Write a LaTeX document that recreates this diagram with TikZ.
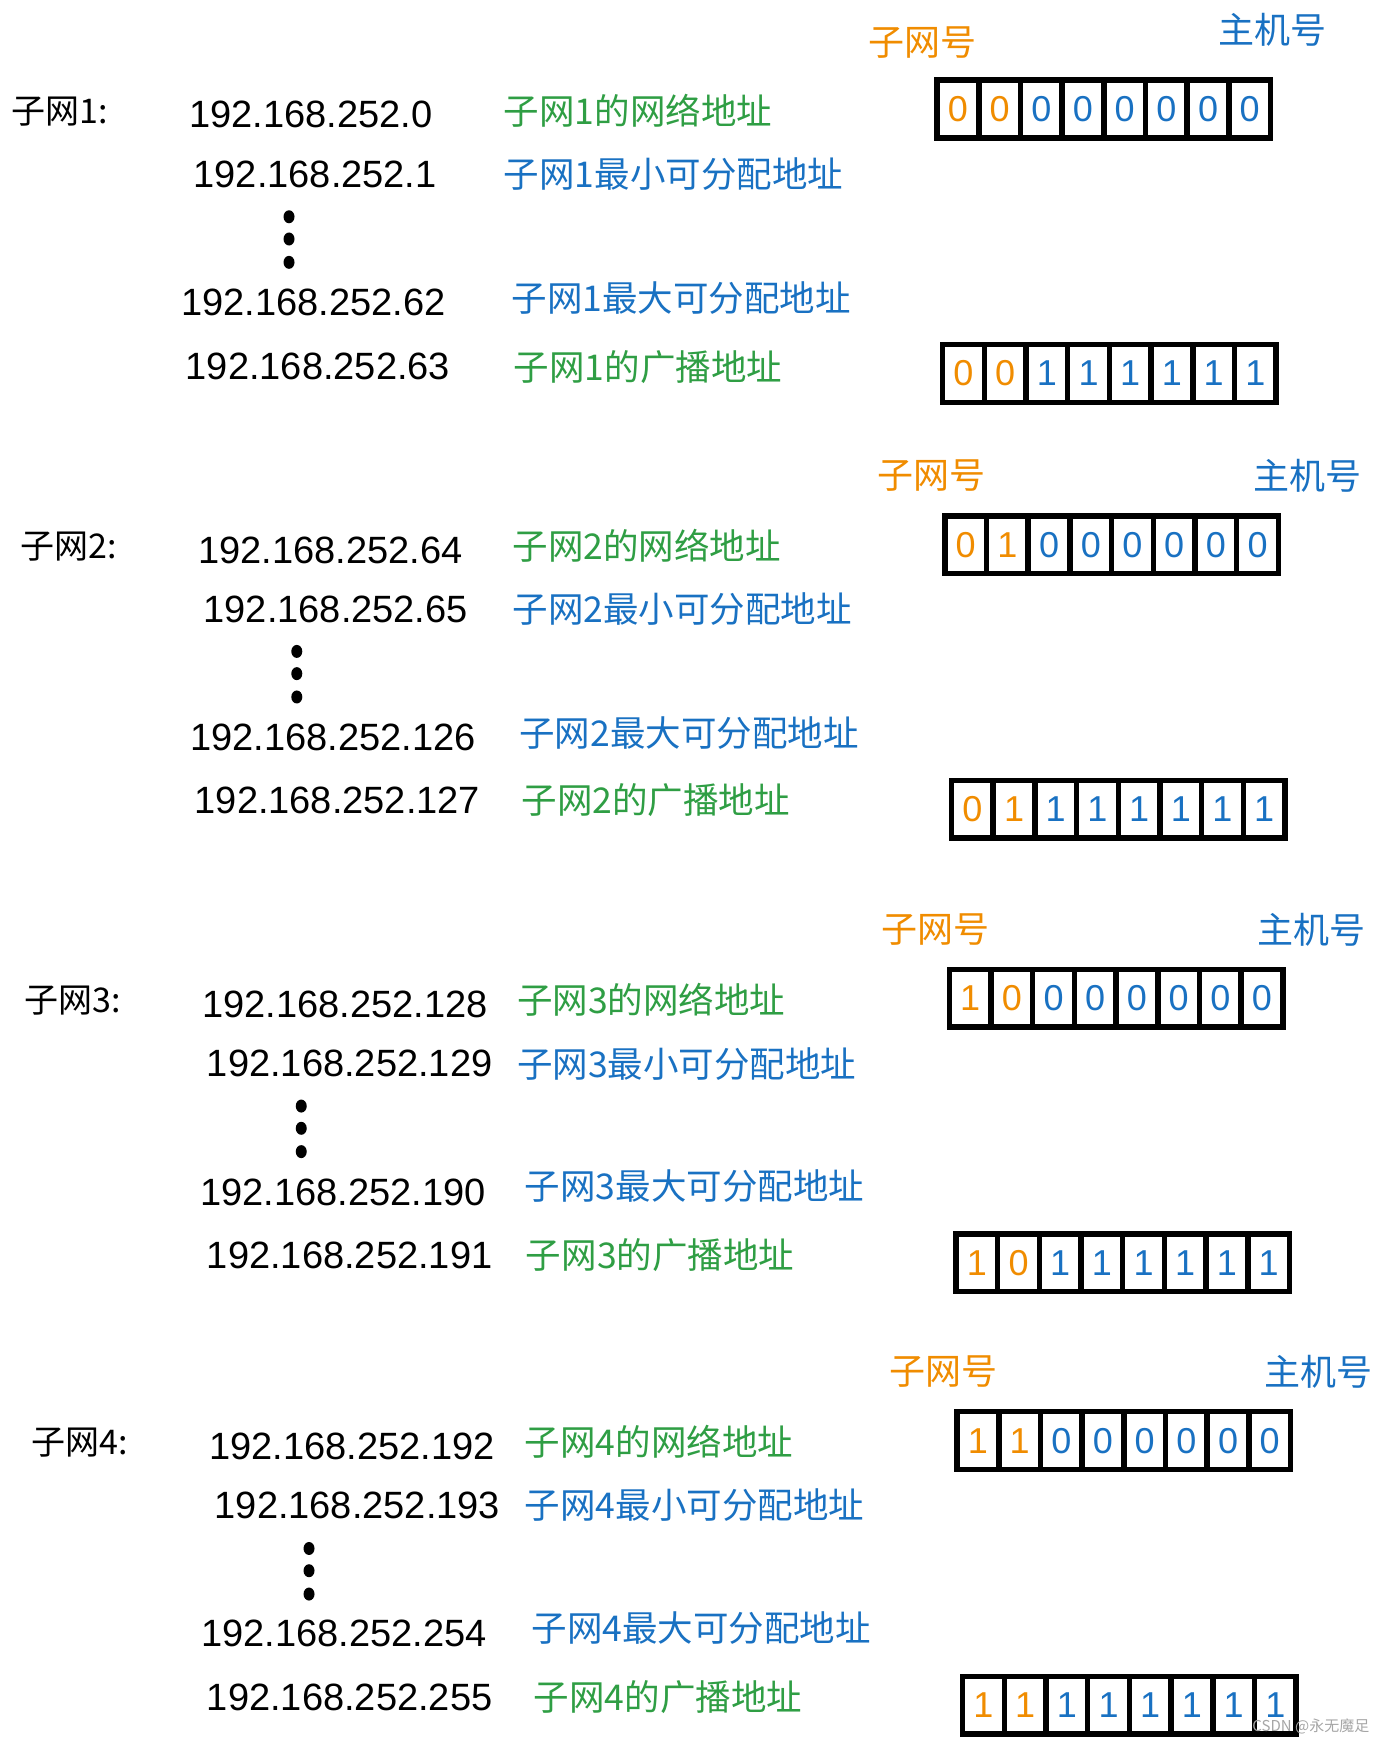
\documentclass[tikz,border=0pt]{standalone}
\usepackage{fontspec}
\setmainfont{Liberation Sans}
\newfontfamily\cjk{Noto Sans CJK SC}
\usetikzlibrary{shapes.geometric}
\definecolor{exorange}{HTML}{F08C00}
\definecolor{exgreen}{HTML}{2F9E44}
\definecolor{exblue}{HTML}{1971C2}
\newcommand\bitrow[4]{%
  \foreach \col/\d [count=\i] in {#4} {
    \node[cell,text=\col] (#1-\i) at ({#2+(\i-0.5)*37.5},#3) {\d};
  }}
\begin{document}
\begin{tikzpicture}[x=1.11111pt,y=-1.11111pt,
  ip/.style={anchor=west,inner sep=0pt,font=\fontsize{38}{40}\selectfont},
  glbl/.style={anchor=west,inner sep=0pt,text=exgreen,font=\cjk\fontsize{35.5}{38}\selectfont},
  blbl/.style={anchor=west,inner sep=0pt,text=exblue,font=\cjk\fontsize{35.5}{38}\selectfont},
  netlbl/.style={anchor=west,inner sep=0pt,font=\cjk\fontsize{34}{36}\selectfont},
  snlbl/.style={inner sep=0pt,text=exorange,font=\cjk\fontsize{36}{38}\selectfont},
  hostlbl/.style={inner sep=0pt,text=exblue,font=\cjk\fontsize{36}{38}\selectfont},
  cell/.style={draw=black,line width=5.5pt,minimum width=41.67pt,minimum height=57.8pt,inner sep=0pt,font=\fontsize{36}{38}\selectfont},
  vdot/.style={fill=black,ellipse,minimum width=11pt,minimum height=13pt,inner sep=0pt}
]
\useasboundingbox (0,0) rectangle (1244,1568);

% ---- Subnet 1 ----
\node[netlbl] (n1) at (10,100) {子网1:};
\node[ip] (a1) at (170,103) {192.168.252.0};
\node[ip] (b1) at (174,157) {192.168.252.1};
\node[vdot] (d1a) at (260,195) {};
\node[vdot] (d1b) at (260,215) {};
\node[vdot] (d1c) at (260,236) {};
\node[ip] (c1) at (163,272) {192.168.252.62};
\node[ip] (e1) at (167,330) {192.168.252.63};
\node[glbl] (la1) at (453,100) {子网1的网络地址};
\node[blbl] (lb1) at (453,157) {子网1最小可分配地址};
\node[blbl] (lc1) at (460,268) {子网1最大可分配地址};
\node[glbl] (le1) at (462,330) {子网1的广播地址};
\node[snlbl] (s1) at (830,38) {子网号};
\node[hostlbl] (h1) at (1145,27) {主机号};
\bitrow{t1}{843}{98}{exorange/0,exorange/0,exblue/0,exblue/0,exblue/0,exblue/0,exblue/0,exblue/0}
\bitrow{u1}{848}{336}{exorange/0,exorange/0,exblue/1,exblue/1,exblue/1,exblue/1,exblue/1,exblue/1}

% ---- Subnet 2 ----
\node[netlbl] (n2) at (18,492) {子网2:};
\node[ip] (a2) at (178,495) {192.168.252.64};
\node[ip] (b2) at (183,548) {192.168.252.65};
\node[vdot] (d2a) at (267,586) {};
\node[vdot] (d2b) at (267,606) {};
\node[vdot] (d2c) at (267,627) {};
\node[ip] (c2) at (171,663) {192.168.252.126};
\node[ip] (e2) at (175,720) {192.168.252.127};
\node[glbl] (la2) at (461,491) {子网2的网络地址};
\node[blbl] (lb2) at (461,548) {子网2最小可分配地址};
\node[blbl] (lc2) at (467,659) {子网2最大可分配地址};
\node[glbl] (le2) at (469,720) {子网2的广播地址};
\node[snlbl] (s2) at (838,428) {子网号};
\node[hostlbl] (h2) at (1176,428) {主机号};
\bitrow{t2}{850}{490}{exorange/0,exorange/1,exblue/0,exblue/0,exblue/0,exblue/0,exblue/0,exblue/0}
\bitrow{u2}{856}{728}{exorange/0,exorange/1,exblue/1,exblue/1,exblue/1,exblue/1,exblue/1,exblue/1}

% ---- Subnet 3 ----
\node[netlbl] (n3) at (22,900) {子网3:};
\node[ip] (a3) at (182,904) {192.168.252.128};
\node[ip] (b3) at (186,957) {192.168.252.129};
\node[vdot] (d3a) at (271,995) {};
\node[vdot] (d3b) at (271,1015) {};
\node[vdot] (d3c) at (271,1036) {};
\node[ip] (c3) at (180,1073) {192.168.252.190};
\node[ip] (e3) at (186,1129) {192.168.252.191};
\node[glbl] (la3) at (465,899) {子网3的网络地址};
\node[blbl] (lb3) at (465,957) {子网3最小可分配地址};
\node[blbl] (lc3) at (472,1067) {子网3最大可分配地址};
\node[glbl] (le3) at (473,1129) {子网3的广播地址};
\node[snlbl] (s3) at (842,836) {子网号};
\node[hostlbl] (h3) at (1180,836) {主机号};
\bitrow{t3}{854}{898}{exorange/1,exorange/0,exblue/0,exblue/0,exblue/0,exblue/0,exblue/0,exblue/0}
\bitrow{u3}{860}{1136}{exorange/1,exorange/0,exblue/1,exblue/1,exblue/1,exblue/1,exblue/1,exblue/1}

% ---- Subnet 4 ----
\node[netlbl] (n4) at (28,1298) {子网4:};
\node[ip] (a4) at (188,1301) {192.168.252.192};
\node[ip] (b4) at (193,1354) {192.168.252.193};
\node[vdot] (d4a) at (278,1393) {};
\node[vdot] (d4b) at (278,1413) {};
\node[vdot] (d4c) at (278,1434) {};
\node[ip] (c4) at (181,1469) {192.168.252.254};
\node[ip] (e4) at (186,1527) {192.168.252.255};
\node[glbl] (la4) at (472,1297) {子网4的网络地址};
\node[blbl] (lb4) at (472,1354) {子网4最小可分配地址};
\node[blbl] (lc4) at (478,1465) {子网4最大可分配地址};
\node[glbl] (le4) at (480,1527) {子网4的广播地址};
\node[snlbl] (s4) at (849,1234) {子网号};
\node[hostlbl] (h4) at (1186,1234) {主机号};
\bitrow{t4}{861}{1296}{exorange/1,exorange/1,exblue/0,exblue/0,exblue/0,exblue/0,exblue/0,exblue/0}
\bitrow{u4}{866}{1534}{exorange/1,exorange/1,exblue/1,exblue/1,exblue/1,exblue/1,exblue/1,exblue/1}

\node[anchor=east,inner sep=0pt,text=black!35,font=\cjk\fontsize{15}{16}\selectfont] (wm) at (1232,1553) {CSDN @永无魔足};
\end{tikzpicture}
\end{document}
